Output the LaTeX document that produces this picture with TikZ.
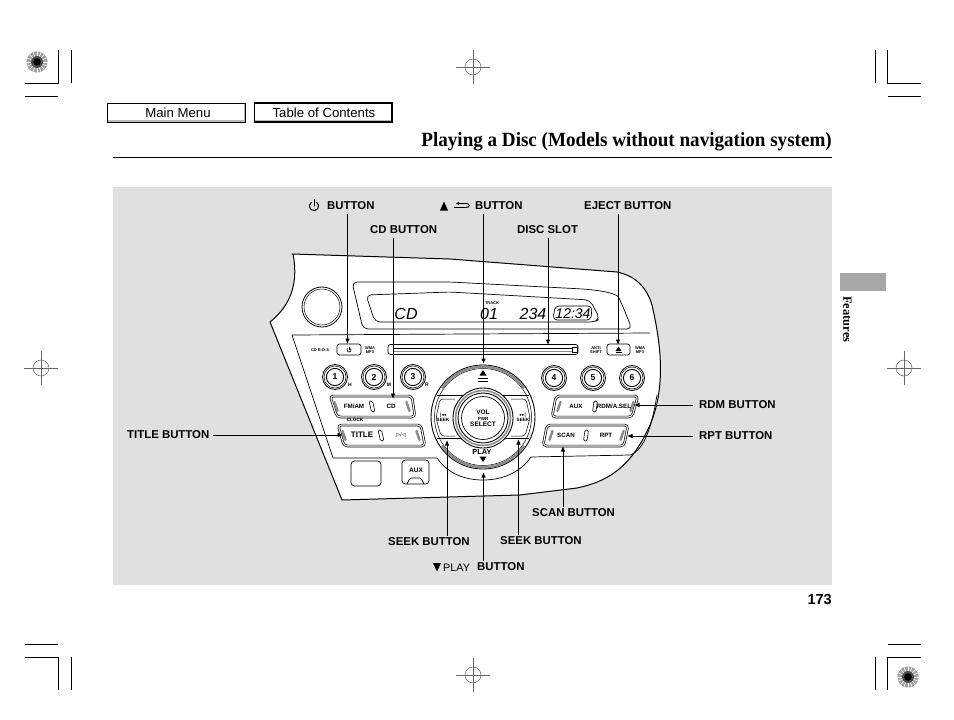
\documentclass[tikz,border=0pt]{standalone}
\usepackage{fontspec}
\setmainfont{Liberation Sans}
\newfontfamily\serifbold{Liberation Serif}
\newfontfamily\serifcond{Liberation Serif}[FakeStretch=0.945]
\newfontfamily\dejavu{DejaVu Sans}
\definecolor{panelgray}{HTML}{E0E0E0}
\definecolor{tabgray}{HTML}{A8A6A6}
\definecolor{midgray}{HTML}{8C8C8C}
\newcommand{\fsz}[1]{\fontsize{#1}{#1}\selectfont}
\newcommand{\regmark}[2]{%
  \draw[regline] (#1,#2) circle (8);
  \draw[regline] (#1-17,#2) -- (#1+17,#2) (#1,#2-17) -- (#1,#2+17);}
\newcommand{\sunburst}[2]{%
  \fill[gray!75] (#1,#2) circle (10.7);
  \foreach \a in {0,22.5,...,337.5}{\draw[white,line width=.7pt] (#1,#2) ++(\a:5.5) -- ++(\a:5.2);}
  \fill[gray!60!black] (#1,#2) circle (6);
  \fill[black] (#1,#2) circle (3.8);}
\newcommand{\pillbtn}[6]{% xtl xtr xbr xbl ytop ybot
  \draw[softkey] (#1,#5) -- (#2,#5) -- (#3,#6) -- (#4,#6) -- cycle;}
\newcommand{\slashmark}[3]{% x y lean
  \draw[thin,rounded corners=1.5pt,line width=.6pt] (#1-2+#3,#2-5.5) -- (#1+1.5+#3,#2-5.5) -- (#1+2-#3,#2+5.5) -- (#1-1.5-#3,#2+5.5) -- cycle;}
\newcommand{\hatchend}[3]{% x y lean
  \draw[midgray,line width=2.4pt,line cap=round] (#1+#3,#2-4.5) -- (#1-#3,#2+4.5);}
\newcommand{\presetkey}[3]{%
  \draw[line width=.8pt,fill=white] (#1,#2) circle (12.5);
  \draw[line width=.5pt] (#1,#2) circle (11);
  \draw[line width=.9pt] (#1,#2) circle (8.6);
  \node[keytext,font=\bfseries\fsz{8.6}] (#3) at (#1,#2) {#3};}
\usetikzlibrary{arrows.meta}
\tikzset{
  x=1pt,y=-1pt,
  regline/.style={gray!80!black,line width=.5pt},
  cropline/.style={black,line width=.9pt},
  softkey/.style={draw=black,line width=.7pt,double=white,double distance=1.1pt,rounded corners=3.5pt,fill=white},
  hardline/.style={black,line width=1pt,line join=round},
  softline/.style={black,line width=.7pt,line join=round},
  callout/.style={black,line width=.8pt,-{Latex[length=5.5pt,width=4.5pt]}},
  lbl/.style={anchor=west,inner sep=0pt,font=\bfseries\fsz{11.4}},
  keytext/.style={inner sep=0pt,align=center,font=\bfseries\fsz{6.2}},
  tiny/.style={inner sep=0pt,align=center,font=\bfseries\fsz{4}},
  seg/.style={inner sep=0pt,font=\itshape\fsz{16}},
  menubtn/.style={inner sep=0pt,font=\fsz{13.2}},
}
\begin{document}
\begin{tikzpicture}
\useasboundingbox (0,0) rectangle (954,720);
\fill[white] (0,0) rectangle (954,720);
% crop marks
\draw[cropline] (25,83) -- (58.5,83) -- (58.5,50) (71.5,50) -- (71.5,83) (25,96) -- (58,96);
\draw[cropline] (875.5,50) -- (875.5,83) (887.5,50) -- (887.5,83) -- (921,83) (888,96) -- (921,96);
\draw[cropline] (25,644) -- (58,644) (25,657) -- (58.5,657) -- (58.5,690) (71.5,657) -- (71.5,690);
\draw[cropline] (888,644) -- (921,644) (921,657) -- (887.5,657) -- (887.5,690) (875.5,657) -- (875.5,690);
\regmark{473}{67}\regmark{41}{368}\regmark{904}{368}\regmark{473}{675}
\sunburst{37}{62}\sunburst{908}{677}
% header
\fill[gray!55] (107.5,103) rectangle (245,122);
\fill[white] (107.5,103) rectangle (243.5,120.3);
\draw[black,line width=.9pt] (107.5,103) rectangle (245,122);
\node[menubtn] (mainmenu) at (178,112.5) {Main Menu};
\fill[gray!55] (254.5,103) rectangle (392,122);
\fill[white] (254.5,103) rectangle (390.5,120.3);
\draw[black,line width=1.1pt] (254.5,103) rectangle (392,122);
\node[menubtn] (toc) at (324,112.5) {Table of Contents};
\node[anchor=base east,inner sep=0pt,font=\serifcond\bfseries\fsz{20.2}] (title) at (832,146) {Playing a Disc (Models without navigation system)};
\draw[black,line width=.9pt] (113,157.5) -- (832,157.5);
% gray panel
\fill[panelgray] (113,187) rectangle (832,585);
\fill[tabgray] (840,273) rectangle (886,291);
\node[rotate=-90,anchor=west,inner sep=0pt,font=\serifbold\bfseries\fsz{12.5}] (features) at (847.5,296) {Features};
\node[anchor=east,inner sep=0pt,font=\bfseries\fsz{14.5}] (pagenum) at (832,600) {173};
% faceplate
\draw[hardline,fill=white] (292,254) -- (450,259) -- (617,272)
  .. controls (636,276) and (647,288) .. (652,305)
  .. controls (660,340) and (667,385) .. (650,425)
  .. controls (630,470) and (605,482) .. (577,488)
  -- (520,495) -- (342,500) -- (270,322)
  .. controls (285,310) and (300,290) .. (293,254) -- cycle;
% display
\draw[softline,rounded corners=5pt] (352,282) -- (450,282) -- (583,289) .. controls (605,291) and (617,294) .. (621,302) -- (632,329) -- (363,329) -- cycle;
\draw[softline,rounded corners=5pt] (366,295) -- (450,292) -- (590,300) -- (600,319) -- (594,322) -- (375,322) -- cycle;
\node[seg] (dcd) at (406,314) {CD};
\node[seg] (dtrack) at (489,314) {01};
\node[seg] (dnum) at (533,314) {234};
\draw[softline,rounded corners=4pt] (555,306) -- (592,306) -- (591,320) -- (553,320) -- cycle;
\node[seg,font=\itshape\fsz{14}] (dclock) at (573,313.5) {12:34};
\node[tiny] (track) at (492,303) {TRACK};
% knob
\draw[line width=.8pt] (322,307) circle (20);
\draw[line width=.5pt] (322,307) circle (18);
% lower panel line
\draw[softline] (292,335) -- (650,333);
\draw[softline] (292,335) -- (333,458) -- (437,458) .. controls (445,470) and (460,480) .. (483,480) .. controls (506,480) and (522,470) .. (531,457) -- (630,455) .. controls (645,450) and (652,425) .. (657,395);
% top row
\node[tiny] (rdsmark) at (320,350) {CD R-D-S};
\draw[softline,rounded corners=2.5pt] (337,344) rectangle (361,355);
\draw[line width=.6pt] (349,350) ++(-50:2) arc (-50:230:2);
\draw[line width=.6pt] (349,347.3) -- (349,350);
\node[tiny] (wmaleft) at (370,350) {WMA\\MP3};
\draw[softline,rounded corners=2.5pt] (388,344.5) rectangle (578,354.5);
\draw[line width=.5pt] (394,348.5) -- (572,348.5);
\draw[line width=1pt,midgray] (394,351) -- (572,351);
\draw[line width=.5pt] (572,347) rectangle (577,352);
\node[tiny] (antishift) at (596,350) {ANTI\\SHIFT};
\draw[softline,rounded corners=2.5pt] (607,344) rectangle (630,355);
\fill (618.5,346.5) -- (621.5,351) -- (615.5,351) -- cycle;
\fill (615.5,352) rectangle (621.5,353);
\node[tiny] (wmaright) at (640,350) {WMA\\MP3};
% presets
\presetkey{335}{377}{1}\presetkey{374}{377}{2}\presetkey{413}{377}{3}
\presetkey{554}{378}{4}\presetkey{593}{378}{5}\presetkey{632}{378}{6}
\node[tiny,font=\bfseries\fsz{5}] (hr) at (350,385) {H};
\node[tiny,font=\bfseries\fsz{5}] (mn) at (389,385) {M};
\node[tiny,font=\bfseries\fsz{5}] (rs) at (427,385) {R};
% soft keys
\pillbtn{330}{412}{415}{337}{396}{417}
\hatchend{336}{406.5}{-1.5}\hatchend{408}{406.5}{-1.5}\slashmark{372}{406.5}{-1}
\node[keytext] (fmam) at (354,406.5) {FM/AM};
\node[keytext] (cdkey) at (391,406.5) {CD};
\node[tiny,font=\bfseries\fsz{4.6}] (clockl) at (355,419.5) {CLOCK};
\pillbtn{338}{421}{425}{344}{425}{446}
\hatchend{344}{435.5}{-1.5}\hatchend{418}{435.5}{-1.5}\slashmark{381}{435.5}{-1}
\node[keytext,font=\bfseries\fsz{8}] (titlekey) at (362,435) {TITLE};
\node[keytext,font=\dejavu\fsz{5}] (playpause) at (401,435) {▷/◁};
\pillbtn{556}{638}{632}{552}{396}{417}
\hatchend{559}{406.5}{1.5}\hatchend{632}{406.5}{1.5}\slashmark{595}{406.5}{1}
\node[keytext] (auxkey) at (576,406.5) {AUX};
\node[keytext] (rdmkey) at (614,406.5) {RDM/A.SEL};
\pillbtn{547}{628}{624}{543}{425}{446}
\hatchend{551}{435.5}{1.5}\hatchend{622}{435.5}{1.5}\slashmark{586}{435.5}{1}
\node[keytext] (scankey) at (566,435) {SCAN};
\node[keytext] (rptkey) at (606,435) {RPT};
% blank and AUX
\draw[softline,rounded corners=3.5pt] (351,461) rectangle (381,486);
\draw[softline,rounded corners=3.5pt] (402,460) rectangle (429,484);
\draw[softline,rounded corners=1.5pt] (407,484) -- (410,478) -- (421,478) -- (424,484);
\node[keytext,font=\bfseries\fsz{6.5}] (auxbox) at (416,470.5) {AUX};
% dial
\fill[white] (483,417) circle (52);
\draw[line width=.9pt] (483,417) circle (52);
\draw[line width=.5pt] (483,417) circle (48.5);
\draw[midgray,line width=2.6pt] (483,417) ++(215:50.2) arc (215:325:50.2);
\draw[midgray,line width=2.6pt] (483,417) ++(35:50.2) arc (35:145:50.2);
\draw[line width=1pt] (437,395) -- (529,395) (437,438.5) -- (529,438.5);
\draw[line width=.5pt,rounded corners=3pt] (455,399) -- (440,399) -- (436,418) -- (441,436) -- (455,436);
\draw[line width=.5pt,rounded corners=3pt] (511,399) -- (526,399) -- (530,418) -- (525,436) -- (511,436);
\node[keytext,font=\bfseries\fsz{4.6}] (seekl) at (443,417) {{\dejavu|◂◂}\\SEEK};
\node[keytext,font=\bfseries\fsz{4.6}] (seekr) at (523,417) {{\dejavu▸▸|}\\SEEK};
\fill[white] (483,418) circle (30);
\draw[line width=.9pt] (483,418) circle (30);
\draw[midgray,line width=1.6pt] (483,418) circle (27.5);
\draw[line width=.9pt] (483,418) circle (25);
\draw[line width=.7pt] (483,418) circle (21.5);
\node[keytext,font=\bfseries\fsz{6.5}] (volkey) at (483,418) {VOL\\[-.5pt]{\fsz{4.5}PWR}\\[-.5pt]SELECT};
\fill (483,370) -- (486.5,375.5) -- (479.5,375.5) -- cycle;
\draw[line width=.6pt] (478,378) -- (488,378) (478,381) -- (488,381);
\node[keytext,font=\bfseries\fsz{7.4}] (playkey) at (482,452) {PLAY};
\fill (479.5,456.5) -- (486.5,456.5) -- (483,462) -- cycle;
% labels
\draw[line width=1pt,line cap=round] (314,206) ++(-55:4.6) arc (-55:235:4.6);
\draw[line width=1pt,line cap=round] (314,199.5) -- (314,206);
\node[lbl] (lpower) at (327,206) {BUTTON};
\fill (444,201.5) -- (448,210.5) -- (440,210.5) -- cycle;
\draw[line width=.9pt,-{Latex[length=3pt,width=3.5pt]}] (466,203.5) -- (456,203.5);
\draw[line width=.9pt] (466,203.5) .. controls (470.5,203.5) and (470.5,207.5) .. (466,207.5);
\draw[line width=.9pt] (453.5,207.5) -- (466,207.5);
\node[lbl] (lback) at (475,206) {BUTTON};
\node[lbl] (lcd) at (370,230) {CD BUTTON};
\node[lbl] (lslot) at (517,230) {DISC SLOT};
\node[lbl] (leject) at (584,206) {EJECT BUTTON};
\node[lbl] (lrdm) at (699,405) {RDM BUTTON};
\node[lbl] (lrpt) at (699,436) {RPT BUTTON};
\node[lbl] (ltitle) at (127,435) {TITLE BUTTON};
\node[lbl] (lscan) at (532,513) {SCAN BUTTON};
\node[lbl] (lseekl) at (388,542) {SEEK BUTTON};
\node[lbl] (lseekr) at (500,541) {SEEK BUTTON};
\fill (433,563) -- (441,563) -- (437,571.5) -- cycle;
\node[lbl,font=\fsz{10.8}] (lplaysm) at (443,567.5) {PLAY};
\node[lbl] (lplay) at (477,567) {BUTTON};
% connector tips
\coordinate (tpower) at (347.5,344);
\coordinate (tcd) at (393,399);
\coordinate (tback) at (483.5,364);
\coordinate (tslot) at (548,345);
\coordinate (teject) at (618,345);
\coordinate (trdm) at (634,405);
\coordinate (trpt) at (627,436);
\coordinate (ttitle) at (343,435);
\coordinate (tscan) at (563,446);
\coordinate (tseekl) at (447,440);
\coordinate (tplay) at (483.5,472);
\coordinate (tseekr) at (518.5,439);
\draw[callout] (tpower |- 0,214) -- (tpower);
\draw[callout] (tcd |- 0,238) -- (tcd);
\draw[callout] (tback |- 0,214) -- (tback);
\draw[callout] (tslot |- 0,238) -- (tslot);
\draw[callout] (teject |- 0,214) -- (teject);
\draw[callout] (lrdm.west) ++(-6,0) -- (trdm);
\draw[callout] (lrpt.west) ++(-6,0) -- (trpt);
\draw[callout] (ltitle.east) ++(3,0) -- (ttitle);
\draw[callout] (tscan |- lscan.north) ++(0,-2) -- (tscan);
\draw[callout] (tseekl |- lseekl.north) ++(0,-2) -- (tseekl);
\draw[callout] (tplay |- lplay.north) ++(0,-2) -- (tplay);
\draw[callout] (tseekr |- lseekr.north) ++(0,-2) -- (tseekr);
\end{tikzpicture}
\end{document}
